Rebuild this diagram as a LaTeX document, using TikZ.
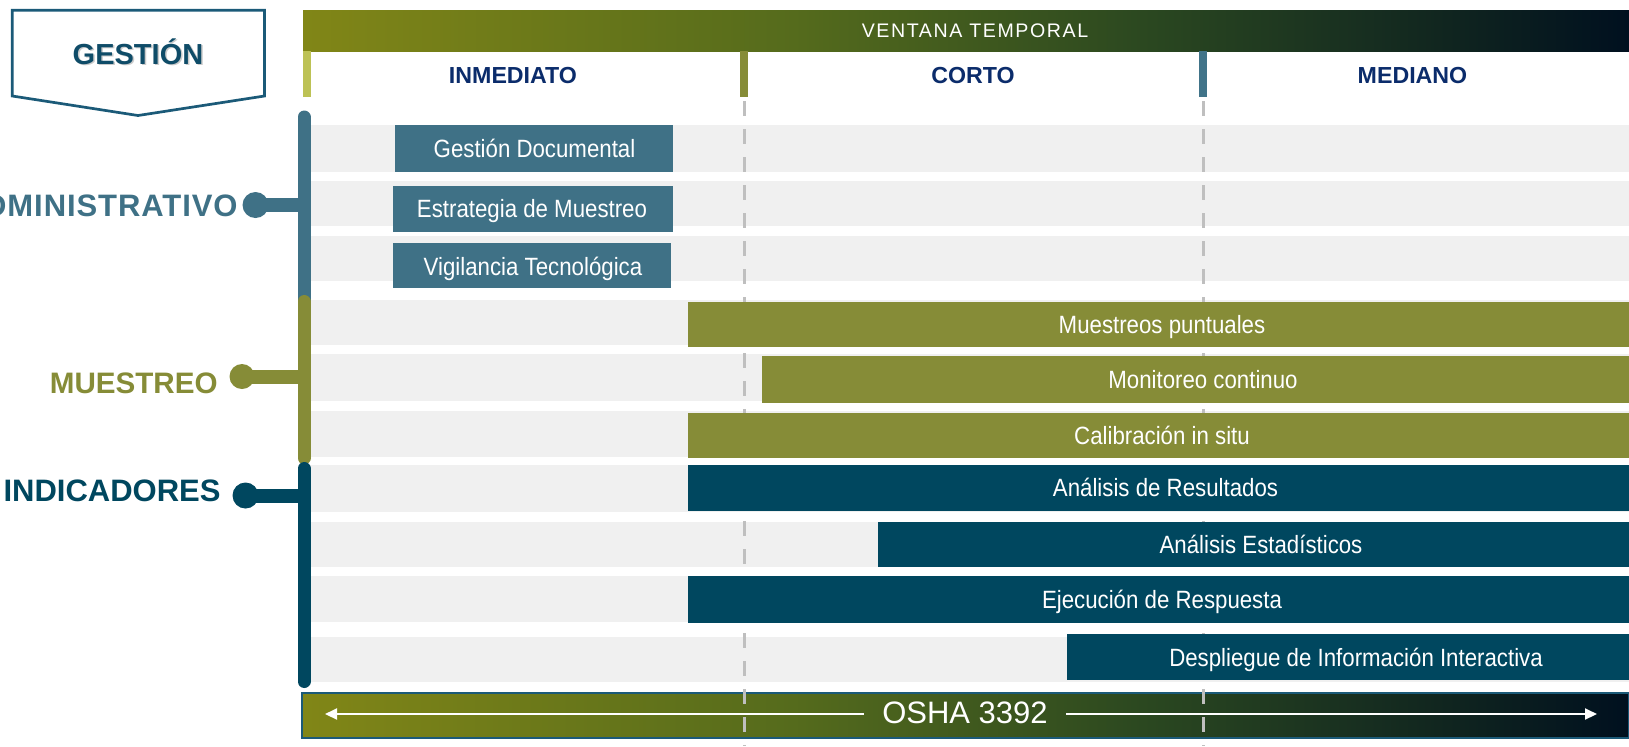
\documentclass[tikz,border=0pt]{standalone}
\usepackage{fontspec}
\setmainfont{Liberation Sans}
\newfontfamily\taskfont[FakeStretch=0.89]{Liberation Sans}
\newfontfamily\vtfont[LetterSpace=8]{Liberation Sans}
\newfontfamily\admfont[LetterSpace=3]{Liberation Sans}
\usetikzlibrary{arrows.meta}
\definecolor{admin}{HTML}{3F7186}
\definecolor{muest}{HTML}{868C37}
\definecolor{indic}{HTML}{00475F}
\definecolor{rowgray}{HTML}{F0F0F0}
\definecolor{dashgray}{HTML}{BFBFBF}
\definecolor{navy}{HTML}{0B2C6B}
\definecolor{gestc}{HTML}{0F4C68}
\definecolor{gestline}{HTML}{1B5A78}
\definecolor{mkone}{HTML}{BDC255}
\definecolor{mkthree}{HTML}{417489}
\definecolor{gA}{HTML}{818617}
\definecolor{gB}{HTML}{556B1C}
\definecolor{gC}{HTML}{2A4720}
\definecolor{gD}{HTML}{00101F}
\pgfdeclarehorizontalshading{vtshade}{100bp}{color(0bp)=(gA); color(25bp)=(gA); color(43.5bp)=(gB); color(57bp)=(gC); color(75bp)=(gD); color(100bp)=(gD)}
\tikzset{
  rowbg/.style={fill=rowgray},
  bartext/.style={text=white, font=\taskfont\fontsize{12.5}{14}\selectfont, inner sep=0pt, anchor=base},
  smalltext/.style={text=white, font=\taskfont\fontsize{12.5}{14}\selectfont, inner sep=0pt, anchor=base},
  colhead/.style={text=navy, font=\bfseries\fontsize{11.6}{13}\selectfont, inner sep=0pt, anchor=base},
  blabel/.style={font=\bfseries\fontsize{15.5}{17}\selectfont, inner sep=0pt, anchor=base east},
  spine/.style={line width=6.5pt, line cap=round},
  branch/.style={line width=7pt},
  dot/.style={circle, inner sep=0pt, minimum size=13pt},
  dashline/.style={draw=dashgray, line width=1.5pt, dash pattern=on 7.5pt off 6.5pt},
  osharrow/.style={draw=white, line width=1pt, -{Triangle[length=6pt,width=5.5pt]}},
}
\begin{document}
\begin{tikzpicture}[x=0.5pt, y=-0.5pt]
\useasboundingbox (0,0) rectangle (1629,746);
\fill[white] (0,0) rectangle (1629,746);

% GESTION header
\draw[gestline, line width=1.35pt, fill=white] (12.3,10.3) -- (264.5,10.3) -- (264.5,96) -- (138,115.5) -- (12.3,96) -- cycle;
\node[text=black!45, opacity=0.45, font=\bfseries\fontsize{14.5}{16}\selectfont, inner sep=0pt, anchor=base] (gshadow) at (139.5,65.5) {GESTIÓN};
\node[text=gestc, font=\bfseries\fontsize{14.5}{16}\selectfont, inner sep=0pt, anchor=base] (gest) at (138,64) {GESTIÓN};

% top bar
\fill[shading=vtshade] (303,10) rectangle (1629,51);
\node[text=white, font=\vtfont\fontsize{9.8}{11}\selectfont, inner sep=0pt] (vt) at (975,31) {VENTANA TEMPORAL};

% column markers
\fill[mkone] (303,51) rectangle (310.7,97);
\fill[muest] (740,51) rectangle (748.3,97);
\fill[mkthree] (1199,51) rectangle (1206.7,97);

% column headers
\node[colhead] (inm) at (513,83.3) {INMEDIATO};
\node[colhead] (cor) at (973,83.3) {CORTO};
\node[colhead] (med) at (1412.5,83.3) {MEDIANO};

% gray rows
\foreach \a/\b in {125/171.5, 181/226, 236/280.5, 300/344.5, 354/401, 411/456.5, 465/511.5, 522/567, 576/621.5, 637/682}
  \fill[rowbg] (304,\a) rectangle (1629,\b);

% OSHA bar
\fill[shading=vtshade] (302,693) rectangle (1629,738);
\draw[gestline, line width=0.8pt] (302,693) rectangle (1629,738);
\node[text=white, font=\fontsize{15.5}{17}\selectfont, inner ysep=0pt, inner xsep=9pt] (osha) at (965,712.5) {OSHA 3392};
\coordinate (la) at (325,714);
\coordinate (ra) at (1597,714);
\draw[osharrow] (osha.west |- la) -- (la);
\draw[osharrow] (osha.east |- ra) -- (ra);

% dashed guides
\coordinate (d1t) at (744,101);
\coordinate (d1b) at (744,746);
\coordinate (d2t) at (1203,101);
\coordinate (d2b) at (1203,746);
\draw[dashline] (d1t) -- (d1b);
\draw[dashline] (d2t) -- (d2b);

% administrative bars
\fill[admin] (395,125) rectangle (672.7,171.7);
\node[smalltext] (t1) at (534.5,157.7) {Gestión Documental};
\fill[admin] (392.7,186) rectangle (672.7,231.7);
\node[smalltext] (t2) at (532,217.7) {Estrategia de Muestreo};
\fill[admin] (392.7,243) rectangle (670.7,287.7);
\node[smalltext] (t3) at (533,275) {Vigilancia Tecnológica};

% sampling bars
\fill[muest] (688,302) rectangle (1629,347);
\node[bartext] (t4) at (1162,333.5) {Muestreos puntuales};
\fill[muest] (762,356) rectangle (1629,403);
\node[bartext] (t5) at (1203,388.5) {Monitoreo continuo};
\fill[muest] (688,413) rectangle (1629,458);
\node[bartext] (t6) at (1162,444.5) {Calibración in situ};

% indicator bars
\fill[indic] (688,465) rectangle (1629,510.5);
\node[bartext] (t7) at (1165.5,496.7) {Análisis de Resultados};
\fill[indic] (877.7,521.7) rectangle (1629,566.7);
\node[bartext] (t8) at (1261,553) {Análisis Estadísticos};
\fill[indic] (688,576) rectangle (1629,623);
\node[bartext] (t9) at (1162,608.5) {Ejecución de Respuesta};
\fill[indic] (1067,634) rectangle (1629,680);
\node[bartext] (t10) at (1356,666) {Despliegue de Información Interactiva};

% spine
\draw[spine, admin] (304,117) -- (304,300);
\draw[spine, muest] (304,301.5) -- (304,458);
\draw[spine, indic] (304,468.5) -- (304,681.5);

% branches
\node[dot, fill=admin] (dA) at (255.5,205) {};
\coordinate (sA) at (304,205);
\draw[branch, admin] (dA.center) -- (sA);
\node[dot, fill=muest, minimum size=12.5pt] (dM) at (242,376.5) {};
\coordinate (sM) at (304,376.5);
\draw[branch, muest] (dM.center) -- (sM);
\node[dot, fill=indic] (dI) at (245.5,495.5) {};
\coordinate (sI) at (304,495.5);
\draw[branch, indic] (dI.center) -- (sI);

\node[blabel, text=admin, font=\admfont\bfseries\fontsize{15.5}{17}\selectfont] (lA) at (238,216.7) {ADMINISTRATIVO};
\node[blabel, text=muest, font=\bfseries\fontsize{14.8}{17}\selectfont] (lM) at (218,393.3) {MUESTREO};
\node[blabel, text=indic] (lI) at (221,501.7) {INDICADORES};
\end{tikzpicture}
\end{document}
